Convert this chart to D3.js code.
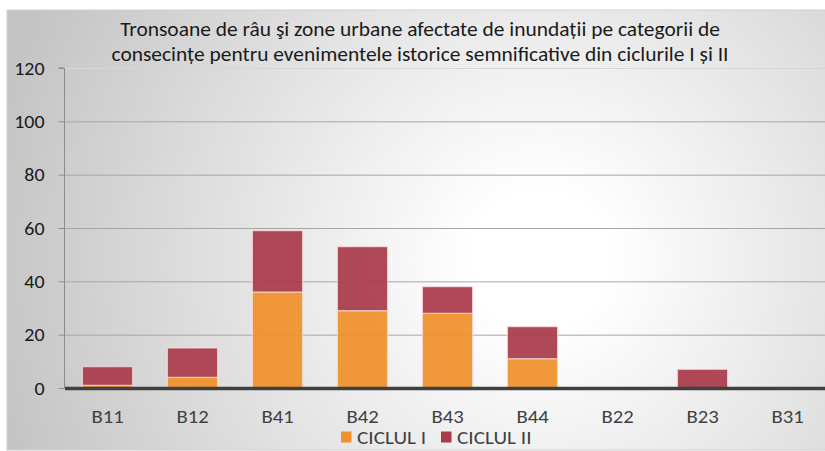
<!DOCTYPE html>
<html><head><meta charset="utf-8">
<script src="https://cdn.jsdelivr.net/npm/d3@7"></script>
<style>body{margin:0;background:#fff;}svg{display:block;}</style>
</head><body>
<svg id="c" width="825" height="451"></svg>
<script>
const categories = ["B11","B12","B41","B42","B43","B44","B22","B23","B31"];
const ciclulI  = [1, 4, 36, 29, 28, 11, 0, 0, 0];
const ciclulII = [7, 11, 23, 24, 10, 12, 0, 7, 0];
const seriesNames = ["CICLUL I","CICLUL II"];
const seriesColors = ["#F0912B","#A93B4A"];
const yTicks = [0,20,40,60,80,100,120];
const titleLines = ["Tronsoane de râu şi zone urbane afectate de inundații pe categorii de",
                    "consecințe pentru evenimentele istorice semnificative din ciclurile I și II"];

const font = "Carlito, Calibri, Lato, sans-serif";
const svg = d3.select("#c");
const defs = svg.append("defs");
const rg = defs.append("radialGradient").attr("id","bg")
  .attr("gradientUnits","userSpaceOnUse").attr("cx",540).attr("cy",260).attr("r",560);
rg.append("stop").attr("offset","0%").attr("stop-color","#ffffff");
rg.append("stop").attr("offset","12%").attr("stop-color","#ffffff");
rg.append("stop").attr("offset","100%").attr("stop-color","#c4c4c4");

svg.append("rect").attr("x",7).attr("y",10).attr("width",830).attr("height",440)
  .attr("fill","url(#bg)").attr("stroke","#d0d0d0").attr("stroke-width",1);

const m = {left:65, top:68, bottom:388};
const x = d3.scaleBand().domain(categories).range([m.left, m.left + 85*categories.length]).paddingInner(0.41).paddingOuter(0.205);
const y = d3.scaleLinear().domain([0,120]).range([m.bottom, m.top]);

// gridlines
svg.append("g").selectAll("line").data(yTicks.filter(d=>d>0)).join("line")
  .attr("x1",m.left).attr("x2",825).attr("y1",d=>y(d)+0.5).attr("y2",d=>y(d)+0.5)
  .attr("stroke",d=>d===120?"#d6d6d6":"#a6a6a6").attr("stroke-width",1);

// y axis
const yAxis = d3.axisLeft(y).tickValues(yTicks).tickSize(6).tickPadding(14);
const ga = svg.append("g").attr("transform",`translate(${m.left-0.5},0)`).call(yAxis);
ga.select(".domain").attr("stroke","#8c8c8c").attr("d",`M-6,${y(120)}H0V${y(0)}`);
ga.selectAll(".tick line").attr("stroke","#8c8c8c");
ga.selectAll("text").attr("font-family",font).attr("font-size",17.5).attr("fill","#1a1a1a")
  .attr("x",null).attr("dy",null).attr("y",6)
  .attr("transform","translate(-20,0) scale(1.14,1)");

// stacked bars
const data = categories.map((c,i)=>({cat:c, I:ciclulI[i], II:ciclulII[i]}));
const stack = d3.stack().keys(["I","II"])(data);
svg.append("g").selectAll("g").data(stack).join("g")
  .attr("fill",(d,i)=>seriesColors[i])
  .selectAll("rect").data(d=>d.filter(s=>s[1]-s[0]>0)).join("rect")
  .attr("x",d=>x(d.data.cat)).attr("width",x.bandwidth())
  .attr("y",d=>y(d[1])).attr("height",d=>y(d[0])-y(d[1]))
  .attr("fill-opacity",0.93)
  .attr("stroke","#fbe0e0").attr("stroke-opacity",0.7).attr("stroke-width",1.2);

// x axis
const xAxis = d3.axisBottom(x).tickSize(0);
const gx = svg.append("g").attr("transform",`translate(0,${m.bottom})`).call(xAxis);
gx.select(".domain").remove();
svg.append("line").attr("x1",m.left).attr("x2",825).attr("y1",m.bottom+0.5).attr("y2",m.bottom+0.5)
  .attr("stroke","#404040").attr("stroke-width",3.5);
gx.selectAll("text").attr("font-family",font).attr("font-size",18.5).attr("fill","#404040")
  .attr("dy",null).attr("y",35).attr("transform","scale(1.12,1)");

// title
svg.append("g").selectAll("text").data(titleLines).join("text")
  .attr("transform",(d,i)=>`translate(420,${35.5+i*25.5}) scale(1.1,1)`)
  .attr("text-anchor","middle")
  .attr("font-family",font).attr("font-size",19.5).attr("fill","#1a1a1a").text(d=>d);

// legend
const lg = svg.append("g").attr("transform","translate(341,444)");
const lx = [0, 100];
seriesNames.forEach((n,i)=>{
  lg.append("rect").attr("x",lx[i]).attr("y",-12.5).attr("width",10.5).attr("height",11).attr("fill",seriesColors[i]);
  lg.append("text").attr("transform",`translate(${lx[i]+16},0) scale(1.18,1)`)
    .attr("font-family",font).attr("font-size",18).attr("fill","#404040").text(n);
});
</script>
</body></html>
